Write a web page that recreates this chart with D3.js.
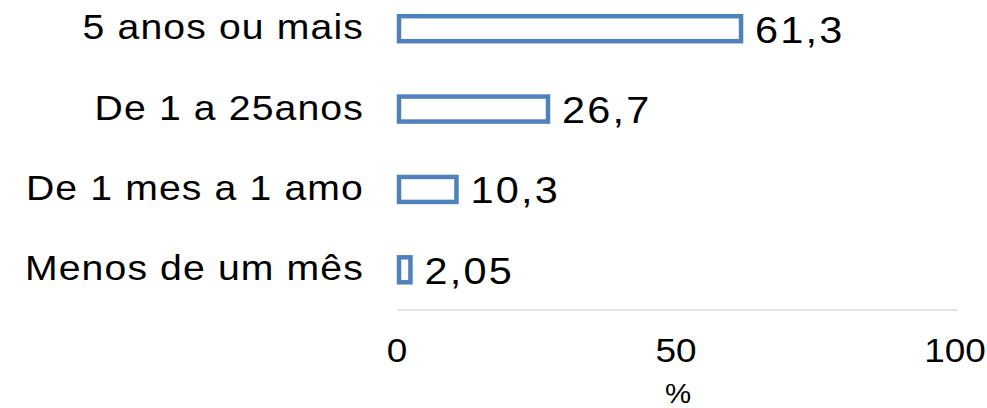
<!DOCTYPE html>
<html>
<head>
<meta charset="utf-8">
<script src="https://cdn.jsdelivr.net/npm/d3@7"></script>
<style>
  html, body { margin: 0; padding: 0; background: #fff; }
  svg { display: block; }
  text { font-family: "Liberation Sans", Arial, sans-serif; fill: #000; }
</style>
</head>
<body>
<svg id="chart" width="987" height="408"></svg>
<script>
const categories = ["5 anos ou mais", "De 1 a 25anos", "De 1 mes a 1 amo", "Menos de um mês"];
const values = [61.3, 26.7, 10.3, 2.05];
const valueLabels = ["61,3", "26,7", "10,3", "2,05"];
const tickValues = [0, 50, 100];
const axisTitle = "%";

const svg = d3.select("#chart");
const sx = 1.12;

const x = d3.scaleLinear().domain([0, 100]).range([399, 957]);
const y = d3.scalePoint().domain(categories).range([-11.5, 310]).padding(0.5);
const axisY = 310;
const barH = 25;

// axis line
svg.append("line")
  .attr("x1", x(0) - 1).attr("x2", x(100))
  .attr("y1", axisY).attr("y2", axisY)
  .attr("stroke", "#d9d9d9").attr("stroke-width", 1.5);

// bars
svg.selectAll("rect.bar").data(categories).join("rect")
  .attr("class", "bar")
  .attr("x", x(0))
  .attr("y", d => y(d) - barH / 2)
  .attr("width", (d, i) => x(values[i]) - x(0))
  .attr("height", barH)
  .attr("fill", "#fff")
  .attr("stroke", "#4f81bd")
  .attr("stroke-width", 4.5);

// category labels
svg.selectAll("text.cat").data(categories).join("text")
  .attr("class", "cat")
  .attr("text-anchor", "end")
  .attr("font-size", 35)
  .attr("letter-spacing", 1)
  .attr("transform", d => `translate(364,${y(d) + 10.5}) scale(${sx},1)`)
  .text(d => d);

// value labels
svg.selectAll("text.val").data(categories).join("text")
  .attr("class", "val")
  .attr("text-anchor", "start")
  .attr("font-size", 37)
  .attr("letter-spacing", 2)
  .attr("transform", (d, i) => `translate(${x(values[i]) + 14},${y(d) + 14}) scale(${sx},1)`)
  .text((d, i) => valueLabels[i]);

// tick labels
svg.selectAll("text.tick").data(tickValues).join("text")
  .attr("class", "tick")
  .attr("text-anchor", "middle")
  .attr("font-size", 33)
  .attr("transform", d => `translate(${x(d) - 2},${axisY + 52}) scale(${sx},1)`)
  .text(d => d);

// axis title
svg.append("text")
  .attr("text-anchor", "middle")
  .attr("font-size", 28)
  .attr("transform", `translate(${(x(0) + x(100)) / 2},403) scale(1.05,1)`)
  .text(axisTitle);
</script>
</body>
</html>
